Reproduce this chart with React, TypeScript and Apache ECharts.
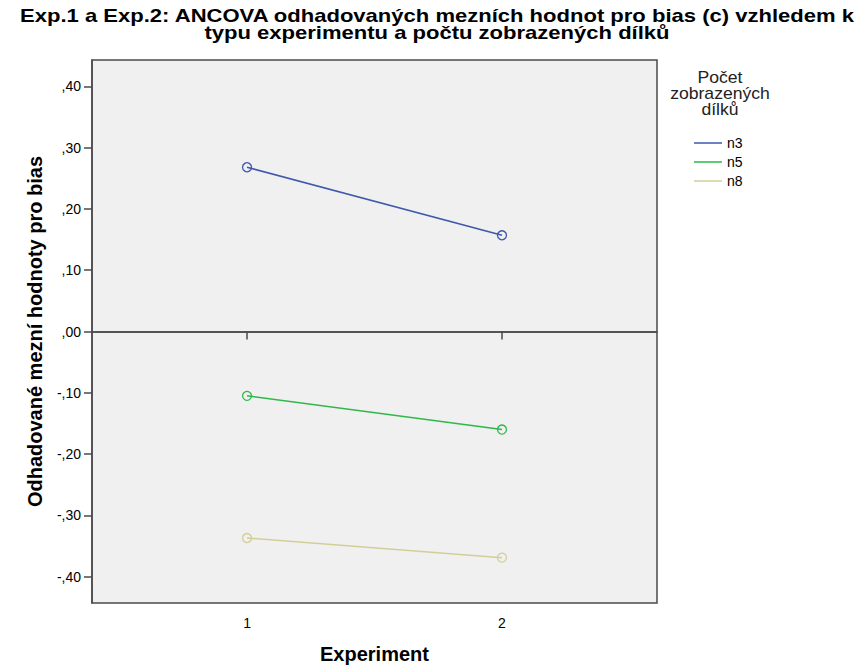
import React, { useEffect, useRef } from "react";
import * as echarts from "echarts";

const experiments = [1, 2];
const seriesNames = ["n3", "n5", "n8"];
const n3Values = [0.268, 0.157];
const n5Values = [-0.105, -0.16];
const n8Values = [-0.337, -0.369];
const yTickValues = [-0.4, -0.3, -0.2, -0.1, 0, 0.1, 0.2, 0.3, 0.4];
const xTickValues = [1, 2];
const seriesColors = ["#3e58ac", "#2eb848", "#d3ce97"];

const titleLine1 = "Exp.1 a Exp.2: ANCOVA odhadovaných mezních hodnot pro bias (c) vzhledem k";
const titleLine2 = "typu experimentu a počtu zobrazených dílků";
const legendTitle = ["Počet", "zobrazených", "dílků"];
const xAxisName = "Experiment";
const yAxisName = "Odhadované mezní hodnoty pro bias";

const FONT = "Arial, 'Liberation Sans', sans-serif";

function fmt(v: number): string {
  return v.toFixed(2).replace("0.", ",");
}

export default function App() {
  const ref = useRef<HTMLDivElement>(null);
  useEffect(() => {
    if (!ref.current) return;
    const chart = echarts.init(ref.current, undefined, { renderer: "svg" });
    const allValues = [n3Values, n5Values, n8Values];
    const series: any[] = seriesNames.map((name, i) => ({
      name,
      type: "line",
      data: experiments.map((x, j) => [x, allValues[i][j]]),
      symbol: "circle",
      symbolSize: 9,
      lineStyle: { color: seriesColors[i], width: 1.5 },
      itemStyle: { color: "rgba(0,0,0,0)", borderColor: seriesColors[i], borderWidth: 1.3 },
      z: 3,
      markLine:
        i === 0
          ? {
              silent: true,
              symbol: ["none", "none"],
              label: { show: false },
              lineStyle: { color: "#4a4a4a", width: 1.5, type: "solid" },
              data: [{ yAxis: 0 }],
              z: 2,
            }
          : undefined,
    }));
    chart.setOption({
      animation: false,
      backgroundColor: "#ffffff",
      textStyle: { fontFamily: FONT },
      grid: {
        left: 92,
        right: 210,
        top: 60,
        bottom: 64,
        show: true,
        backgroundColor: "#f0f0f0",
        borderColor: "#4a4a4a",
        borderWidth: 1.5,
      },
      legend: {
        data: seriesNames.map((n, i) => ({
          name: n,
          icon: "rect",
          itemStyle: { color: seriesColors[i], borderWidth: 0 },
        })),
        orient: "vertical",
        left: 694,
        top: 136,
        itemWidth: 28,
        itemHeight: 1.5,
        itemGap: 5,
        itemTextGap: 2,
        padding: 0,
        textStyle: { fontSize: 14, color: "#000", fontFamily: FONT, lineHeight: 14 },
      },
      xAxis: {
        type: "value",
        min: 0.392,
        max: 2.608,
        name: xAxisName,
        nameLocation: "middle",
        nameGap: 41,
        nameTextStyle: { fontSize: 20, fontWeight: "bold", color: "#000", fontFamily: FONT },
        axisLine: { show: true, lineStyle: { color: "#4a4a4a", width: 1.5 } },
        axisTick: {
          show: true,
          length: 8,
          inside: false,
          customValues: xTickValues,
          lineStyle: { color: "#4a4a4a", width: 1.5 },
        },
        axisLabel: {
          customValues: xTickValues,
          formatter: (v: number) => String(v),
          fontSize: 14,
          color: "#000",
          margin: 13,
        },
        splitLine: { show: false },
      },
      yAxis: {
        type: "value",
        min: -0.443,
        max: 0.443,
        name: yAxisName,
        nameLocation: "middle",
        nameGap: 47,
        nameTextStyle: { fontSize: 20, fontWeight: "bold", color: "#000", fontFamily: FONT },
        axisLine: { show: true, lineStyle: { color: "#4a4a4a", width: 1.5 } },
        axisTick: {
          show: true,
          length: 8,
          inside: false,
          customValues: yTickValues,
          lineStyle: { color: "#4a4a4a", width: 1.5 },
        },
        axisLabel: {
          customValues: yTickValues,
          formatter: (v: number) => fmt(v),
          fontSize: 14,
          color: "#000",
          margin: 11,
        },
        splitLine: { show: false },
      },
      graphic: [
        {
          type: "text",
          x: 437,
          y: 15.5,
          scaleX: 1.16,
          style: {
            text: titleLine1,
            font: `bold 19px ${FONT}`,
            fill: "#000",
            textAlign: "center",
            textVerticalAlign: "middle",
          },
        },
        {
          type: "text",
          x: 437,
          y: 32.5,
          scaleX: 1.16,
          style: {
            text: titleLine2,
            font: `bold 19px ${FONT}`,
            fill: "#000",
            textAlign: "center",
            textVerticalAlign: "middle",
          },
        },
        ...legendTitle.map((t, i) => ({
          type: "text",
          x: 720,
          y: 78 + i * 16,
          scaleX: 1.1,
          style: {
            text: t,
            font: `16px ${FONT}`,
            fill: "#222",
            textAlign: "center",
            textVerticalAlign: "middle",
          },
        })),
      ],
      series,
    });
    return () => chart.dispose();
  }, []);
  return (
    <div
      ref={ref}
      style={{ position: "fixed", left: 0, top: 0, width: 867, height: 669 }}
    />
  );
}
